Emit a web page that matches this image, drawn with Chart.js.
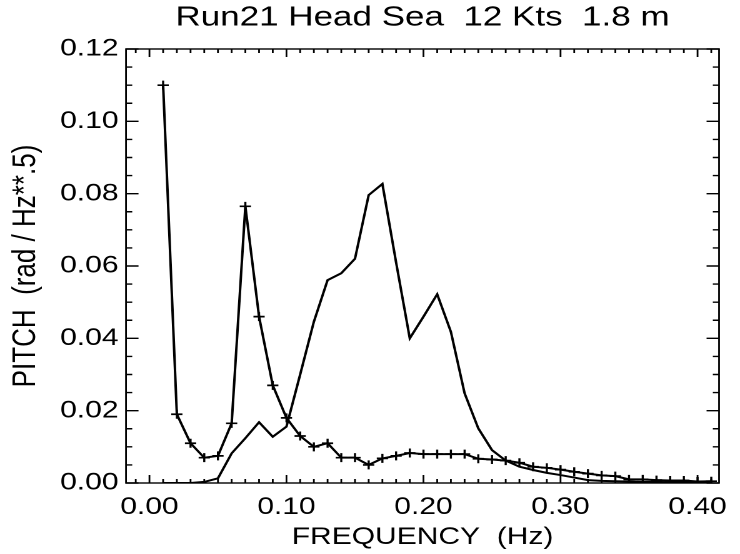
<!DOCTYPE html>
<html>
<head>
<meta charset="utf-8">
<script src="https://cdn.jsdelivr.net/npm/chart.js@4/dist/chart.umd.min.js"></script>
<style>
  html, body { margin: 0; padding: 0; background: #fff; overflow: hidden; }
  /* the reference is a horizontally stretched plot, so draw narrow and stretch */
  #plot { display: block; transform: scaleX(1.25); transform-origin: 0 0; }
</style>
</head>
<body>
<canvas id="plot" width="592" height="554"></canvas>
<script>
// --- data ---
const freq = [0.01, 0.02, 0.03, 0.04, 0.05, 0.06, 0.07, 0.08, 0.09, 0.10,
              0.11, 0.12, 0.13, 0.14, 0.15, 0.16, 0.17, 0.18, 0.19, 0.20,
              0.21, 0.22, 0.23, 0.24, 0.25, 0.26, 0.27, 0.28, 0.29, 0.30,
              0.31, 0.32, 0.33, 0.34, 0.35, 0.36, 0.37, 0.38, 0.39, 0.40, 0.41];

// curve drawn with + symbols
const pitchMarked = [0.110, 0.019, 0.011, 0.007, 0.0075, 0.0165, 0.0765, 0.046, 0.027, 0.018,
                     0.013, 0.010, 0.011, 0.007, 0.007, 0.005, 0.0068, 0.0075, 0.0083, 0.008,
                     0.008, 0.008, 0.008, 0.0067, 0.0065, 0.0062, 0.0056, 0.0045, 0.0042, 0.0037,
                     0.0031, 0.0026, 0.0021, 0.0019, 0.0010, 0.0010, 0.0008, 0.0007, 0.0007, 0.0004, 0.0005];

// plain curve
const pitchPlain = [0.0, 0.0, 0.0, 0.0003, 0.0013, 0.0082, 0.0124, 0.0168, 0.0128, 0.0156,
                    0.030, 0.0446, 0.0561, 0.058, 0.062, 0.0796, 0.0827, 0.061, 0.040, 0.046,
                    0.0522, 0.0418, 0.0248, 0.0151, 0.0091, 0.0062, 0.0045, 0.0036, 0.0028, 0.0022,
                    0.0015, 0.0008, 0.0006, 0.0005, 0.0004, 0.0003, 0.0003, 0.0002, 0.0002, 0.0001, 0.0001];

const xTicks = [0.0, 0.1, 0.2, 0.3, 0.4];
const yTicks = [0.0, 0.02, 0.04, 0.06, 0.08, 0.10, 0.12];
const xMinorStep = 0.01;
const yMinorStep = 0.005;

const titleText = 'Run21 Head Sea  12 Kts  1.8 m';
const xTitle = 'FREQUENCY  (Hz)';
const yTitle = 'PITCH  (rad / Hz**.5)';

// IDL style box with inward ticks on all four sides
const boxTicks = {
  id: 'boxTicks',
  afterDatasetsDraw(chart) {
    const { ctx, chartArea: a, scales: { x, y } } = chart;
    ctx.save();
    ctx.strokeStyle = '#000';
    ctx.lineWidth = 1.4;
    ctx.strokeRect(a.left, a.top, a.right - a.left, a.bottom - a.top);
    ctx.beginPath();
    const nx0 = Math.ceil(x.min / xMinorStep), nx1 = Math.floor(x.max / xMinorStep);
    for (let i = nx0; i <= nx1; i++) {
      const px = x.getPixelForValue(i * xMinorStep);
      const len = i % 10 === 0 ? 8 : 4;
      ctx.moveTo(px, a.bottom); ctx.lineTo(px, a.bottom - len);
      ctx.moveTo(px, a.top); ctx.lineTo(px, a.top + len);
    }
    const ny1 = Math.round(y.max / yMinorStep);
    for (let j = 0; j <= ny1; j++) {
      const py = y.getPixelForValue(j * yMinorStep);
      const len = j % 4 === 0 ? 10 : 5;
      ctx.moveTo(a.left, py); ctx.lineTo(a.left + len, py);
      ctx.moveTo(a.right, py); ctx.lineTo(a.right - len, py);
    }
    ctx.stroke();
    ctx.restore();
  }
};

Chart.defaults.color = '#000';
Chart.defaults.font.family = "'Liberation Sans', Arial, Helvetica, sans-serif";

new Chart(document.getElementById('plot'), {
  type: 'line',
  data: {
    datasets: [
      {
        label: 'plain',
        data: freq.map((f, i) => ({ x: f, y: pitchPlain[i] })),
        borderColor: '#000',
        borderWidth: 2,
        pointRadius: 0,
        tension: 0
      },
      {
        label: 'marked',
        data: freq.map((f, i) => ({ x: f, y: pitchMarked[i] })),
        borderColor: '#000',
        borderWidth: 2,
        pointStyle: 'cross',
        pointRadius: 4.5,
        pointBorderColor: '#000',
        pointBorderWidth: 1.7,
        tension: 0
      }
    ]
  },
  options: {
    responsive: false,
    animation: false,
    devicePixelRatio: 2,
    layout: { padding: { left: 0, right: 5.6, top: 0, bottom: 0 } },
    plugins: {
      legend: { display: false },
      tooltip: { enabled: false },
      title: {
        display: true,
        text: titleText,
        fullSize: false,
        font: { size: 28, weight: 'normal' },
        padding: { top: 1, bottom: 14.4 }
      }
    },
    scales: {
      x: {
        type: 'linear',
        min: -0.0171,
        max: 0.4157,
        afterBuildTicks: s => { s.ticks = xTicks.map(v => ({ value: v })); },
        afterFit: s => { s.height = 71; },
        grid: { display: false, drawTicks: false },
        border: { display: false },
        ticks: {
          font: { size: 24 },
          padding: 10,
          maxRotation: 0,
          callback: v => v.toFixed(2)
        },
        title: {
          display: true,
          text: xTitle,
          font: { size: 24 },
          padding: { top: 0, bottom: 2 }
        }
      },
      y: {
        min: 0,
        max: 0.12,
        afterBuildTicks: s => { s.ticks = yTicks.map(v => ({ value: v })); },
        afterFit: s => { s.width = 100.8; },
        grid: { display: false, drawTicks: false },
        border: { display: false },
        ticks: {
          font: { size: 24 },
          padding: 6,
          callback: v => v.toFixed(2)
        },
        title: {
          display: true,
          text: yTitle,
          font: { size: 26 },
          padding: { top: 5, bottom: 0 }
        }
      }
    }
  },
  plugins: [boxTicks]
});
</script>
</body>
</html>
